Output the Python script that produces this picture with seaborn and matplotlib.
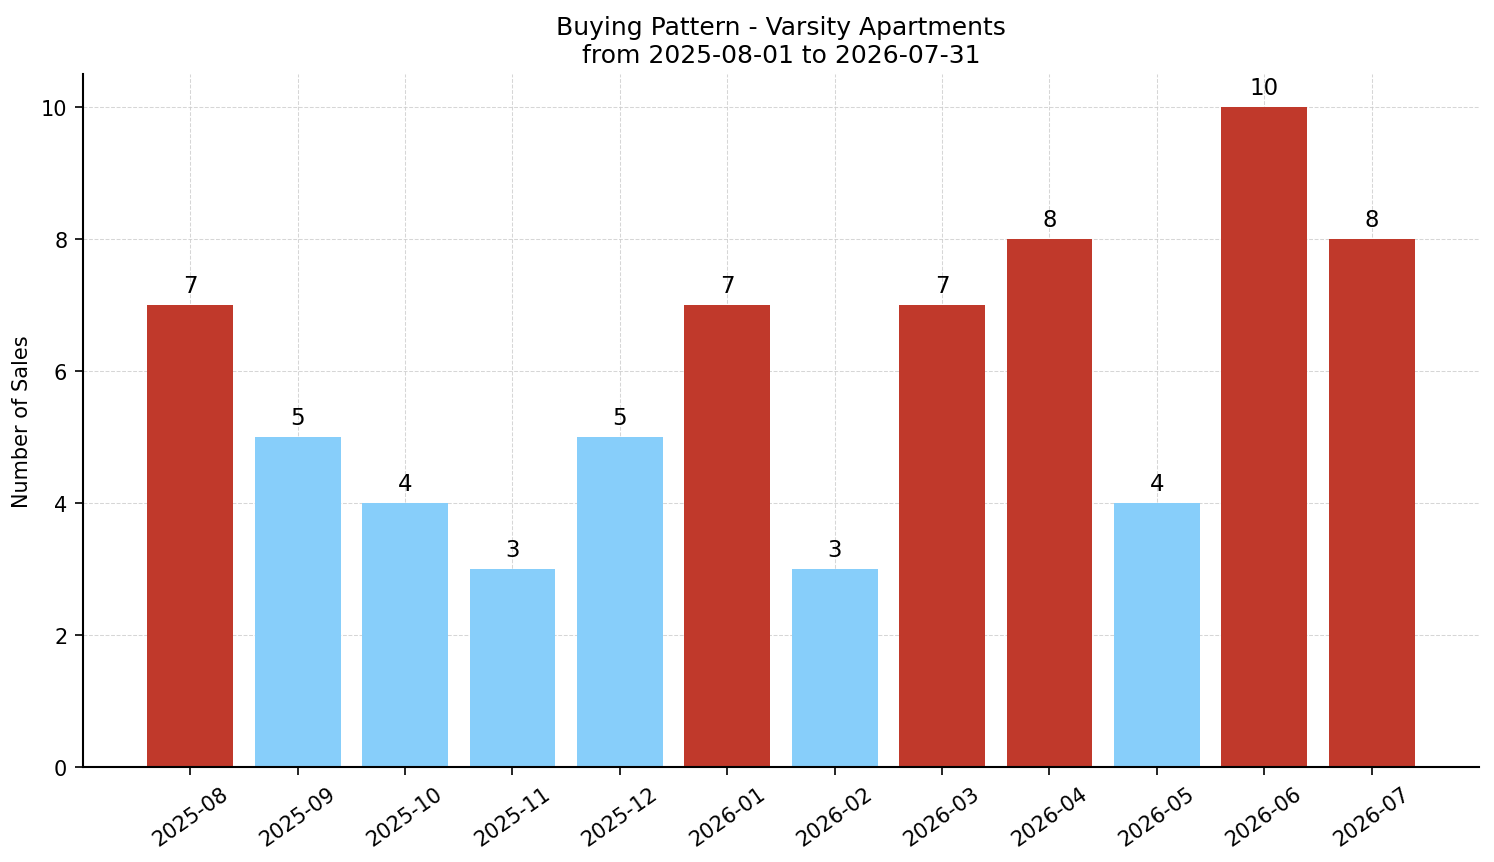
import matplotlib
matplotlib.use("Agg")
import matplotlib.pyplot as plt
import seaborn as sns
import pandas as pd

months = ["2025-08", "2025-09", "2025-10", "2025-11", "2025-12", "2026-01",
          "2026-02", "2026-03", "2026-04", "2026-05", "2026-06", "2026-07"]
sales = [7, 5, 4, 3, 5, 7, 3, 7, 8, 4, 10, 8]
bar_colors = ["#C0392B", "#87CEFA", "#87CEFA", "#87CEFA", "#87CEFA", "#C0392B",
              "#87CEFA", "#C0392B", "#C0392B", "#87CEFA", "#C0392B", "#C0392B"]

df = pd.DataFrame({"month": months, "sales": sales})

sns.set_style("white")
plt.rcParams['font.family'] = ['DejaVu Sans']
plt.rcParams.update({"text.color": "black", "axes.labelcolor": "black",
                     "xtick.color": "black", "ytick.color": "black"})

fig, ax = plt.subplots(figsize=(9.96, 5.753), dpi=150)
sns.barplot(data=df, x="month", y="sales", hue="month", palette=bar_colors,
            legend=False, ax=ax, width=0.8, saturation=1, zorder=2,
            linewidth=0)

for i, v in enumerate(sales):
    ax.text(i, v + 0.12, str(v), ha="center", va="bottom", fontsize=11, color="black")

ax.set_xlim(-1.0, 12.0)
ax.set_ylim(0, 10.5)
ax.set_yticks([0, 2, 4, 6, 8, 10])
ax.grid(True, linestyle="--", linewidth=0.5, color="#cccccc", alpha=0.8, zorder=0)
ax.set_axisbelow(True)
ax.set_xlabel("")
ax.set_ylabel("Number of Sales", fontsize=10, color="black")
ax.set_title("Buying Pattern - Varsity Apartments\nfrom 2025-08-01 to 2026-07-31",
             fontsize=12, color="black")
ax.tick_params(axis="x", rotation=35, labelsize=10, length=4, bottom=True, colors="black")
ax.tick_params(axis="y", labelsize=10, length=4, left=True, colors="black")
for lbl in ax.get_xticklabels():
    lbl.set_ha("center")
sns.despine(ax=ax)
for s in ["left", "bottom"]:
    ax.spines[s].set_color("black")
    ax.spines[s].set_linewidth(1.0)

fig.subplots_adjust(left=0.0555, right=0.99, top=0.913, bottom=0.11)
fig.savefig("out.png", dpi=150)
